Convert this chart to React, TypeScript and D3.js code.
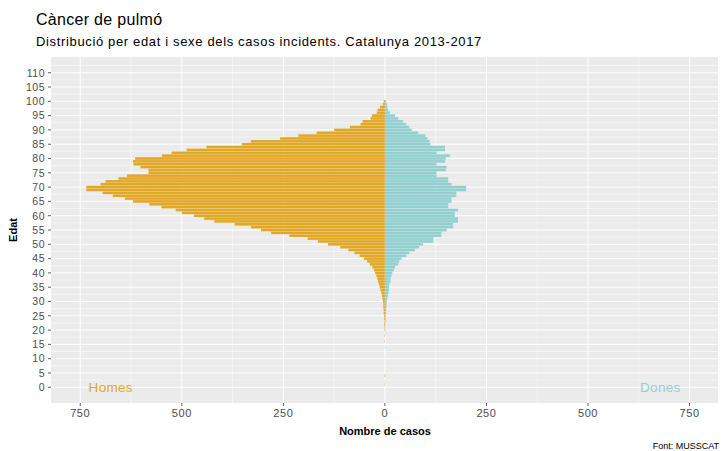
import React from "react";
import * as d3 from "d3";

const ages: number[] = d3.range(0, 101);

// Homes (men) per age 0..100
const menValues: number[] = [
  0, 1, 0, 0, 1, 0, 0, 0, 0, 0,
  0, 0, 0, 0, 0, 0, 1, 0, 1, 0,
  1, 1, 2, 1, 2, 2, 3, 3, 4, 4,
  5, 6, 7, 9, 11, 13, 15, 17, 19, 21,
  24, 27, 31, 37, 44, 52, 62, 75, 90, 110,
  140, 165, 190, 235, 280, 305, 330, 370, 420, 445,
  470, 500, 515, 550, 580, 620, 640, 670, 695, 735,
  735, 700, 688, 656, 635, 582, 582, 602, 619, 620,
  615, 549, 525, 488, 439, 352, 330, 258, 213, 168,
  125, 86, 60, 55, 35, 32, 20, 18, 12, 5,
  3,
];

// Dones (women) per age 0..100
const womenValues: number[] = [
  0, 0, 1, 0, 1, 0, 0, 0, 0, 0,
  0, 0, 0, 0, 1, 0, 0, 0, 0, 1,
  1, 1, 1, 2, 2, 2, 3, 3, 4, 4,
  5, 6, 7, 9, 10, 10, 11, 14, 14, 16,
  18, 22, 25, 33, 35, 41, 53, 60, 74, 84,
  94, 119, 119, 139, 139, 152, 168, 168, 180, 180,
  172, 172, 180, 156, 156, 164, 164, 176, 176, 200,
  200, 164, 156, 156, 127, 127, 150, 152, 127, 148,
  150, 160, 127, 148, 148, 112, 110, 105, 100, 82,
  66, 60, 53, 45, 33, 25, 12, 8, 6, 5,
  3,
];

const yTicks: number[] = d3.range(0, 111, 5);
const xTicks: number[] = [-750, -500, -250, 0, 250, 500, 750];
const xMinor: number[] = [-625, -375, -125, 125, 375, 625];

const titleText = "Càncer de pulmó";
const subtitleText = "Distribució per edat i sexe dels casos incidents. Catalunya 2013-2017";
const xTitle = "Nombre de casos";
const yTitle = "Edat";
const caption = "Font: MUSSCAT";
const menLabel = "Homes";
const womenLabel = "Dones";

const W = 721;
const H = 451;
const panel = { left: 51, right: 718, top: 57, bottom: 403 };
const orange = "#E3A823";
const teal = "#92D0D0";
const font = "'Liberation Sans', Arial, Helvetica, sans-serif";

export default function App() {
  const x = d3.scaleLinear().domain([-822, 820]).range([panel.left, panel.right]);
  const y = d3.scaleLinear().domain([-5.5, 115.5]).range([panel.bottom, panel.top]);
  const step = Math.abs(y(1) - y(0));
  const bh = step * 0.9;
  const yMinor = d3.range(2.5, 113, 5);

  return (
    <svg width={W} height={H} style={{ position: "absolute", left: 0, top: 0, background: "#fff" }}>
      <rect x={0} y={0} width={W} height={H} fill="#fff" />
      <text x={36} y={25} fontFamily={font} fontSize={16} letterSpacing={0.3} fill="#000">{titleText}</text>
      <text x={36} y={46} fontFamily={font} fontSize={13} letterSpacing={0.65} fill="#000">{subtitleText}</text>

      <rect x={panel.left} y={panel.top} width={panel.right - panel.left} height={panel.bottom - panel.top} fill="#EBEBEB" />
      {yMinor.map((t) => (
        <line key={"ym" + t} x1={panel.left} x2={panel.right} y1={y(t)} y2={y(t)} stroke="#fff" strokeWidth={0.5} />
      ))}
      {xMinor.map((t) => (
        <line key={"xm" + t} x1={x(t)} x2={x(t)} y1={panel.top} y2={panel.bottom} stroke="#fff" strokeWidth={0.5} />
      ))}
      {yTicks.map((t) => (
        <line key={"yg" + t} x1={panel.left} x2={panel.right} y1={y(t)} y2={y(t)} stroke="#fff" strokeWidth={1} />
      ))}
      {xTicks.map((t) => (
        <line key={"xg" + t} x1={x(t)} x2={x(t)} y1={panel.top} y2={panel.bottom} stroke="#fff" strokeWidth={1} />
      ))}

      {ages.map((a, i) =>
        menValues[i] > 0 ? (
          <rect key={"m" + a} x={x(-menValues[i])} y={y(a) - bh / 2} width={x(0) - x(-menValues[i])} height={bh} fill={orange} />
        ) : null
      )}
      {ages.map((a, i) =>
        womenValues[i] > 0 ? (
          <rect key={"w" + a} x={x(0)} y={y(a) - bh / 2} width={x(womenValues[i]) - x(0)} height={bh} fill={teal} />
        ) : null
      )}

      <text x={x(-675)} y={y(0) + 4.5} fontFamily={font} fontSize={13.5} letterSpacing={0.3} fill={orange} textAnchor="middle">{menLabel}</text>
      <text x={x(678)} y={y(0) + 4.5} fontFamily={font} fontSize={13.5} letterSpacing={0.3} fill={teal} textAnchor="middle">{womenLabel}</text>

      {yTicks.map((t) => (
        <g key={"yt" + t}>
          <line x1={panel.left - 3} x2={panel.left} y1={y(t)} y2={y(t)} stroke="#333" strokeWidth={0.8} />
          <text x={panel.left - 6} y={y(t) + 3.8} fontFamily={font} fontSize={10.5} letterSpacing={0.5} fill="#4D4D4D" textAnchor="end">{t}</text>
        </g>
      ))}
      {xTicks.map((t) => (
        <g key={"xt" + t}>
          <line x1={x(t)} x2={x(t)} y1={panel.bottom} y2={panel.bottom + 3} stroke="#333" strokeWidth={0.8} />
          <text x={x(t)} y={panel.bottom + 14} fontFamily={font} fontSize={11} letterSpacing={0.6} fill="#4D4D4D" textAnchor="middle">{Math.abs(t)}</text>
        </g>
      ))}

      <text x={385} y={435} fontFamily={font} fontSize={11} fontWeight="bold" fill="#000" textAnchor="middle">{xTitle}</text>
      <text transform={`translate(17, ${(panel.top + panel.bottom) / 2}) rotate(-90)`} fontFamily={font} fontSize={11} fontWeight="bold" fill="#000" textAnchor="middle">{yTitle}</text>
      <text x={719} y={449} fontFamily={font} fontSize={9} fill="#000" textAnchor="end">{caption}</text>
    </svg>
  );
}
